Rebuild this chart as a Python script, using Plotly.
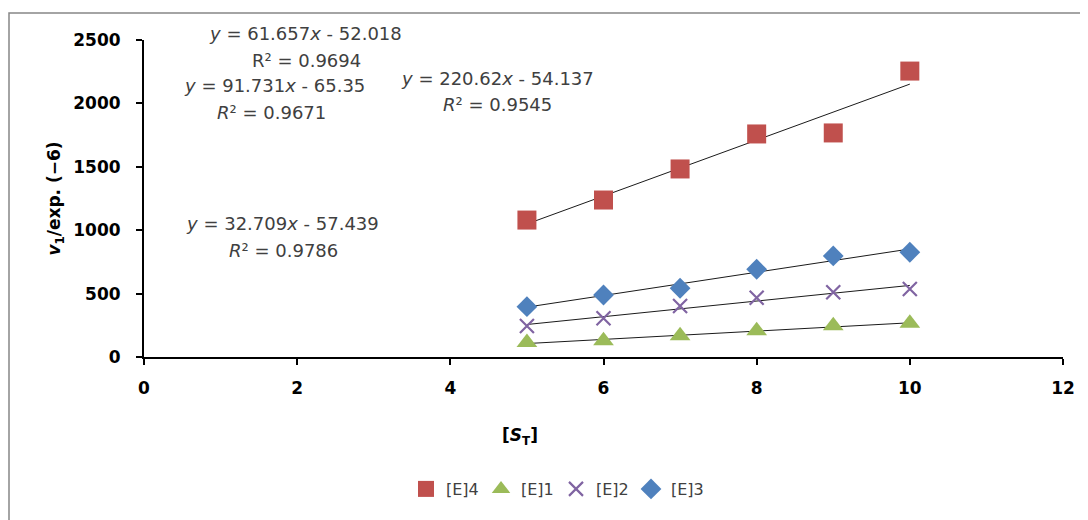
import numpy as np
import plotly.graph_objects as go

x_vals = [5, 6, 7, 8, 9, 10]
e4 = [1080, 1238, 1483, 1759, 1767, 2255]
e1 = [115, 128, 167, 207, 246, 267]
e2 = [245, 305, 402, 468, 510, 536]
e3 = [397, 489, 542, 692, 797, 826]

series_names = ["[E]4", "[E]1", "[E]2", "[E]3"]
series_colors = ["#C0504D", "#9BBB59", "#8064A2", "#4F81BD"]

# trendline coefficients (slope, intercept) as printed on the chart
slopes = [220.62, 32.709, 61.657, 91.731]
intercepts = [-54.137, -57.439, -52.018, -65.35]

eq_texts = [
    "<i>y</i> = 220.62<i>x</i> - 54.137",
    "<i>y</i> = 32.709<i>x</i> - 57.439",
    "<i>y</i> = 61.657<i>x</i> - 52.018",
    "<i>y</i> = 91.731<i>x</i> - 65.35",
]
r2_texts = [
    "<i>R</i>² = 0.9545",
    "<i>R</i>² = 0.9786",
    "R² = 0.9694",
    "<i>R</i>² = 0.9671",
]

# figure geometry (page body adds 8px offset)
W, H = 1080, 512
ML, MR, MT, MB = 136, 25, 32, 163
PW, PH = W - ML - MR, H - MT - MB


def px_to_paper(px, py):
    """window pixel -> paper coords"""
    return (px - 8 - ML) / PW, (H - MB - (py - 8)) / PH


# label centres in window pixels
eq_px = [(497.5, 78), (282.5, 224), (305.5, 34), (274, 85)]
r2_px = [(497.5, 105), (283, 250), (306, 60), (271, 112)]

FONT = "DejaVu Sans, Verdana, sans-serif"
TXT = "#404040"

fig = go.Figure()

ys_all = [e4, e1, e2, e3]
symbols = ["square", "triangle-up", "x-thin-open", "diamond"]
sizes = [19, 18, 14, 16]

# trendlines
for s, b in zip(slopes, intercepts):
    xx = np.array([min(x_vals), max(x_vals)], dtype=float)
    fig.add_trace(go.Scatter(x=xx, y=s * xx + b, mode="lines",
                             line=dict(color="#1a1a1a", width=1),
                             showlegend=False, hoverinfo="skip"))

for name, ys, col, sym, sz in zip(series_names, ys_all, series_colors, symbols, sizes):
    marker = dict(symbol=sym, size=sz, color=col)
    if sym == "x-thin-open":
        marker["line"] = dict(color=col, width=2.2)
    else:
        marker["line"] = dict(width=0)
    fig.add_trace(go.Scatter(x=x_vals, y=ys, mode="markers", name=name,
                             marker=marker, cliponaxis=False))

annotations = []
for t, (ax, ay) in zip(eq_texts + r2_texts, eq_px + r2_px):
    px_, py_ = px_to_paper(ax, ay)
    annotations.append(dict(x=px_, y=py_, xref="paper", yref="paper", text=t,
                            xanchor="center", yanchor="middle",
                            showarrow=False, font=dict(size=18, color=TXT, family=FONT)))

# x-axis title as annotation (it sits left of the plot centre)
tx, ty = px_to_paper(520, 436)
annotations.append(dict(x=tx, y=ty, xref="paper", yref="paper",
                        text="[<i>S</i><sub>T</sub>]", showarrow=False,
                        xanchor="center", yanchor="middle",
                        font=dict(size=17, color="#000", family=FONT, weight="bold")))

lx, ly = px_to_paper(556, 489)
bx0, by1 = px_to_paper(9, 13)

fig.update_layout(
    width=W, height=H,
    margin=dict(l=ML, r=MR, t=MT, b=MB, autoexpand=False),
    paper_bgcolor="white", plot_bgcolor="white",
    font=dict(family=FONT, color="#000"),
    showlegend=True,
    legend=dict(orientation="h", x=lx, y=ly, xanchor="center", yanchor="middle",
                font=dict(size=16, color=TXT, family=FONT), itemsizing="trace",
                tracegroupgap=0, itemwidth=30, entrywidth=30,
                bgcolor="rgba(0,0,0,0)"),
    annotations=annotations,
    shapes=[dict(type="rect", xref="paper", yref="paper",
                 x0=bx0, x1=1.1, y0=-0.7, y1=by1,
                 line=dict(color="#868686", width=1.5), layer="below")],
)

fig.update_xaxes(range=[0, 12], tickvals=[0, 2, 4, 6, 8, 10, 12],
                 showline=True, linecolor="black", linewidth=2,
                 ticks="outside", ticklen=6, tickwidth=2, tickcolor="black",
                 showgrid=False, zeroline=False, automargin=False,
                 ticklabelstandoff=9,
                 tickfont=dict(size=17, family=FONT, color="#000", weight="bold"))
fig.update_yaxes(range=[0, 2500], tickvals=[0, 500, 1000, 1500, 2000, 2500],
                 showline=True, linecolor="black", linewidth=2,
                 ticks="outside", ticklen=6, tickwidth=2, tickcolor="black",
                 showgrid=False, zeroline=False, automargin=False,
                 ticklabelstandoff=12,
                 tickfont=dict(size=17, family=FONT, color="#000", weight="bold"),
                 title=dict(text="<i>v</i><sub>1</sub>/exp. (−6)",
                            font=dict(size=17, family=FONT, color="#000", weight="bold"),
                            standoff=8))

fig.write_html("out.html")
